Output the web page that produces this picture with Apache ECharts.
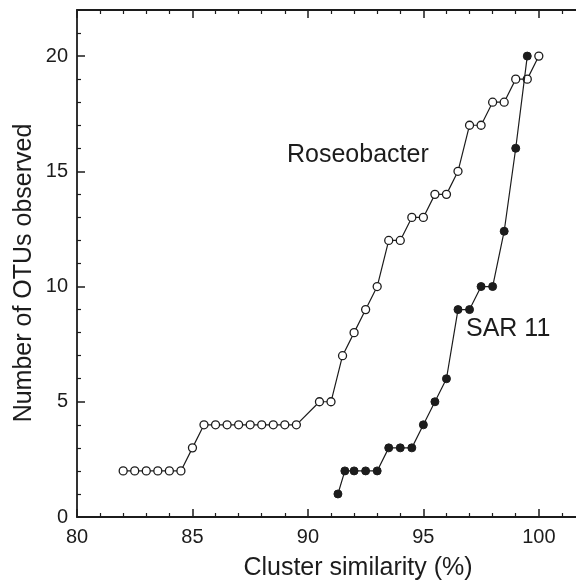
<!DOCTYPE html>
<html>
<head>
<meta charset="utf-8">
<script src="https://cdn.jsdelivr.net/npm/echarts@6/dist/echarts.min.js"></script>
<style>
  html, body { margin: 0; padding: 0; background: #fff; }
  #main { width: 576px; height: 583px; }
</style>
</head>
<body>
<div id="main"></div>
<script>
// Roseobacter (open circles)
var roseoX = [82, 82.5, 83, 83.5, 84, 84.5, 85, 85.5, 86, 86.5, 87, 87.5, 88, 88.5, 89, 89.5,
	90.5, 91, 91.5, 92, 92.5, 93, 93.5, 94, 94.5, 95, 95.5, 96, 96.5, 97, 97.5, 98, 98.5, 99, 99.5, 100];
var roseoY = [2, 2, 2, 2, 2, 2, 3, 4, 4, 4, 4, 4, 4, 4, 4, 4,
	5, 5, 7, 8, 9, 10, 12, 12, 13, 13, 14, 14, 15, 17, 17, 18, 18, 19, 19, 20];
// SAR 11 (filled circles)
var sarX = [91.3, 91.6, 92, 92.5, 93, 93.5, 94, 94.5, 95, 95.5, 96, 96.5, 97, 97.5, 98, 98.5, 99, 99.5];
var sarY = [1, 2, 2, 2, 2, 3, 3, 3, 4, 5, 6, 9, 9, 10, 10, 12.4, 16, 20];

var xTicks = [80, 85, 90, 95, 100];
var yTicks = [0, 5, 10, 15, 20];

function pairs(xs, ys) {
	var out = [];
	for (var i = 0; i < xs.length; i++) out.push([xs[i], ys[i]]);
	return out;
}

var font = 'Liberation Sans, Arial, sans-serif';
var ink = '#1c1c1c';

var myChart = echarts.init(document.getElementById('main'));

function xAx(pos, labels) {
	return {
		type: 'value',
		position: pos,
		min: 80, max: 102, interval: 5,
		axisLine: { show: true, onZero: false, lineStyle: { color: ink, width: 1.8 } },
		axisTick: { show: true, inside: true, length: 8, lineStyle: { color: ink, width: 1.5 } },
		minorTick: { show: true, splitNumber: 5, length: 4, lineStyle: { color: ink, width: 1.2 } },
		axisLabel: {
			show: labels, margin: 10, fontFamily: font, fontSize: 20, color: ink,
			formatter: function (v) { return xTicks.indexOf(v) >= 0 ? String(v) : ''; }
		},
		splitLine: { show: false }
	};
}

function yAx(pos, labels) {
	return {
		type: 'value',
		position: pos,
		min: 0, max: 22, interval: 5,
		axisLine: { show: true, onZero: false, lineStyle: { color: ink, width: 1.8 } },
		axisTick: { show: true, inside: true, length: 8, lineStyle: { color: ink, width: 1.5 } },
		minorTick: { show: true, splitNumber: 5, length: 4, lineStyle: { color: ink, width: 1.2 } },
		axisLabel: {
			show: labels, margin: 9, fontFamily: font, fontSize: 20, color: ink,
			formatter: function (v) { return yTicks.indexOf(v) >= 0 ? String(v) : ''; }
		},
		splitLine: { show: false }
	};
}

var option = {
	animation: false,
	backgroundColor: '#fff',
	grid: { left: 77, top: 10, bottom: 66, width: 508, containLabel: false, outerBoundsMode: 'none' },
	xAxis: [xAx('bottom', true), xAx('top', false)],
	yAxis: [yAx('left', true), yAx('right', false)],
	series: [
		{
			name: 'Roseobacter',
			type: 'line',
			data: pairs(roseoX, roseoY),
			symbol: 'circle',
			symbolSize: 8,
			lineStyle: { color: ink, width: 1.2 },
			itemStyle: { color: '#fff', borderColor: ink, borderWidth: 1.3 },
			z: 3
		},
		{
			name: 'SAR 11',
			type: 'line',
			data: pairs(sarX, sarY),
			symbol: 'circle',
			symbolSize: 8,
			lineStyle: { color: ink, width: 1.2 },
			itemStyle: { color: ink, borderColor: ink, borderWidth: 1 },
			z: 4
		}
	],
	graphic: [
		{ type: 'text', x: 287, y: 155, style: { text: 'Roseobacter', font: '25px ' + font, fill: ink, verticalAlign: 'middle' } },
		{ type: 'text', x: 466, y: 329, style: { text: 'SAR 11', font: '25px ' + font, fill: ink, verticalAlign: 'middle' } },
		{ type: 'text', x: 358, y: 568, style: { text: 'Cluster similarity (%)', font: '25px ' + font, fill: ink, align: 'center', verticalAlign: 'middle' } },
		{ type: 'text', x: 24, y: 273, rotation: Math.PI / 2, style: { text: 'Number of OTUs observed', font: '25px ' + font, fill: ink, align: 'center', verticalAlign: 'middle' } }
	]
};

myChart.setOption(option);
</script>
</body>
</html>
